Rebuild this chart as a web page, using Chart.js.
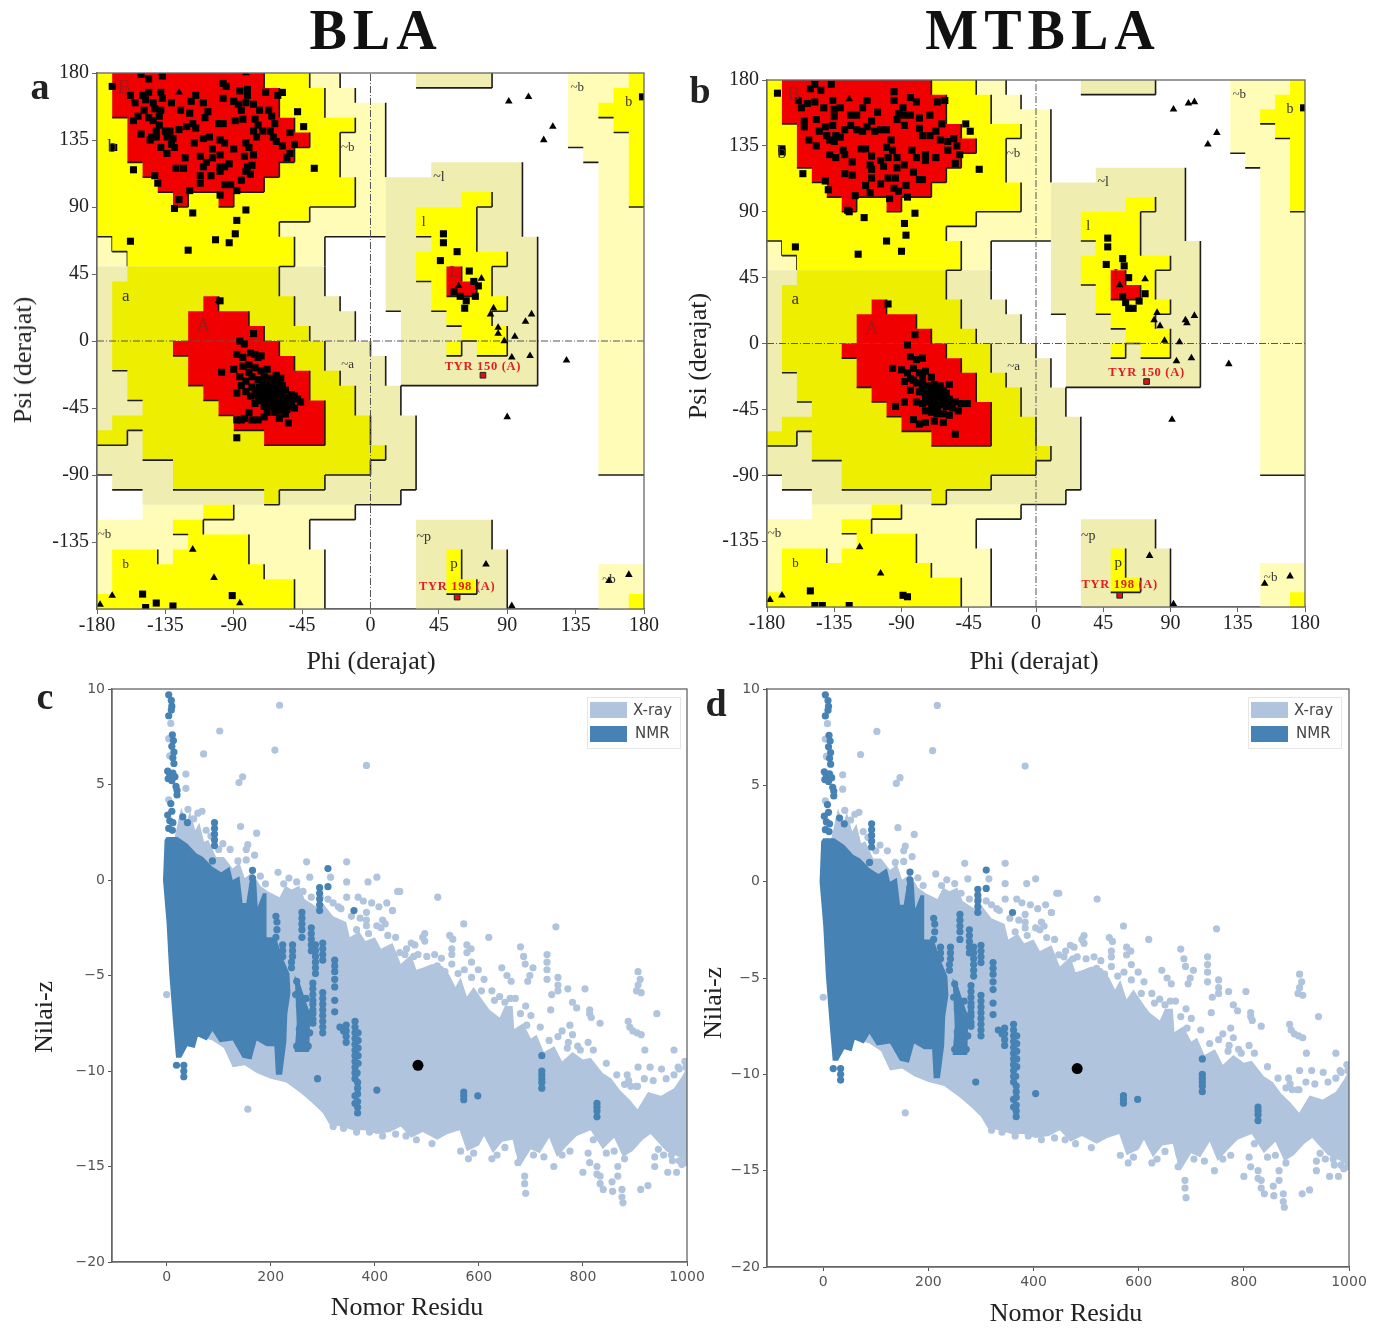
<!DOCTYPE html>
<html lang="en">
<head>
  <meta charset="UTF-8">
  <title>BLA / MTBLA</title>
  <script src="https://cdn.jsdelivr.net/npm/chart.js"></script>
  <style>
    html, body { margin: 0; background: #fff; }
    #page { position: relative; width: 1384px; height: 1329px; overflow: hidden; }
    canvas { position: absolute; filter: blur(0.5px); }
    .txt { position: absolute; transform: translate(-50%, -50%); white-space: nowrap; font-family: "Liberation Serif", serif; color: #222; }
    .head { font-size: 56px; font-weight: bold; letter-spacing: 6px; color: #111; }
    .tag { font-size: 38px; font-weight: bold; color: #222; }
    .axis { font-size: 26px; }
    .legend { position: absolute; width: 92px; height: 50px; border: 1px solid #e6e6e6; background: #fff; font: 15px "DejaVu Sans", sans-serif; color: #444; filter: blur(0.4px); }
    .legend i { position: absolute; left: 2px; width: 37px; height: 16px; }
    .legend span { position: absolute; left: 45px; }
  </style>
</head>
<body>
<div id="page">
  <canvas id="chartA"></canvas>
  <canvas id="chartB"></canvas>
  <canvas id="chartC"></canvas>
  <canvas id="chartD"></canvas>
</div>

<script>
// ---- Ramachandran regions, clockwise outlines in 10 degree steps (shared by a and b)
const coreBeta = [[-170,180],[-70,180],[-70,170],[-60,170],[-60,150],[-50,150],[-50,140],[-40,140],[-40,130],[-50,130],[-50,120],[-60,120],[-60,110],[-70,110],[-70,100],[-90,100],[-90,90],[-100,90],[-100,100],[-120,100],[-120,90],[-130,90],[-130,100],[-140,100],[-140,110],[-150,110],[-150,120],[-160,120],[-160,150],[-170,150]];
const coreAlpha = [[-110,30],[-100,30],[-100,20],[-80,20],[-80,10],[-70,10],[-70,0],[-60,0],[-60,-10],[-50,-10],[-50,-20],[-40,-20],[-40,-40],[-30,-40],[-30,-70],[-70,-70],[-70,-60],[-90,-60],[-90,-50],[-100,-50],[-100,-40],[-110,-40],[-110,-30],[-120,-30],[-120,-10],[-130,-10],[-130,0],[-120,0],[-120,20],[-110,20]];
const coreLeft = [[50,50],[60,50],[60,40],[70,40],[70,30],[50,30]];

const allowedBeta = [[-180,180],[-40,180],[-40,170],[-30,170],[-30,150],[-10,150],[-10,140],[-20,140],[-20,110],[-10,110],[-10,90],[-40,90],[-40,80],[-60,80],[-60,70],[-50,70],[-50,50],[-60,50],[-160,50],[-160,60],[-170,60],[-170,70],[-180,70]];
const allowedAlpha = [[-160,50],[-60,50],[-60,30],[-50,30],[-50,10],[-40,10],[-40,0],[-30,0],[-30,-20],[-20,-20],[-20,-30],[-10,-30],[-10,-50],[0,-50],[0,-70],[10,-70],[10,-80],[0,-80],[0,-90],[-30,-90],[-30,-100],[-60,-100],[-60,-110],[-70,-110],[-70,-100],[-130,-100],[-130,-80],[-150,-80],[-150,-60],[-160,-60],[-160,-70],[-180,-70],[-180,-60],[-170,-60],[-170,-50],[-150,-50],[-150,-40],[-160,-40],[-160,-20],[-170,-20],[-170,40],[-160,40]];
const allowedLowBeta = [[-110,-110],[-90,-110],[-90,-120],[-110,-120],[-110,-130],[-80,-130],[-80,-150],[-70,-150],[-70,-160],[-50,-160],[-50,-180],[-180,-180],[-180,-170],[-170,-170],[-170,-140],[-140,-140],[-140,-150],[-130,-150],[-130,-140],[-120,-140],[-120,-130],[-130,-130],[-130,-120],[-110,-120]];
const allowedL = [[60,100],[80,100],[80,90],[70,90],[70,60],[90,60],[90,50],[80,50],[80,30],[90,30],[90,20],[80,20],[80,10],[90,10],[90,-10],[70,-10],[70,0],[60,0],[60,-10],[50,-10],[50,0],[60,0],[60,10],[50,10],[50,20],[40,20],[40,40],[30,40],[30,60],[40,60],[40,70],[30,70],[30,90],[60,90]];
const allowedP = [[50,-140],[60,-140],[60,-160],[70,-160],[70,-170],[50,-170]];
const allowedRight = [[170,180],[180,180],[180,90],[170,90],[170,140],[160,140],[160,150],[150,150],[150,160],[160,160],[160,170],[170,170]];
const allowedCorner = [[170,-170],[180,-170],[180,-180],[170,-180]];

const paleTop = [[-40,180],[-20,180],[-20,170],[-10,170],[-10,160],[10,160],[10,110],[10,70],[-30,70],[-30,50],[-60,50],[-60,80],[-40,80]];
const paleStrip = [[-180,70],[-170,70],[-170,60],[-160,60],[-160,50],[-180,50]];
const paleLow = [[-150,-110],[-10,-110],[-10,-120],[-40,-120],[-40,-140],[-30,-140],[-30,-180],[-180,-180],[-180,-120],[-150,-120]];
const paleRight = [[130,180],[180,180],[180,-90],[150,-90],[150,120],[140,120],[140,130],[130,130]];
const paleCorner = [[150,-150],[180,-150],[180,-180],[150,-180]];

const tintMain = [[-180,50],[-30,50],[-30,30],[-20,30],[-20,20],[-10,20],[-10,0],[0,0],[0,-10],[10,-10],[10,-30],[20,-30],[20,-50],[30,-50],[30,-100],[20,-100],[20,-110],[-10,-110],[-150,-110],[-150,-100],[-170,-100],[-170,-90],[-180,-90]];
const tintL = [[40,120],[100,120],[100,70],[110,70],[110,-30],[20,-30],[20,20],[10,20],[10,110],[40,110]];
const tintTop = [[30,180],[80,180],[80,170],[30,170]];
const tintP = [[30,-120],[80,-120],[80,-140],[90,-140],[90,-180],[30,-180]];

// edges between these corners carry no black line in the reference
const quietEdges = [[-60,50,-160,50],[-30,50,-60,50],[-160,50,-180,50],[-10,-110,-150,-110],[10,110,10,70]];

const phiTicks = [-180,-135,-90,-45,0,45,90,135,180];
const psiTicks = [-135,-90,-45,0,45,90,135,180];

const regionNames = [
  ['B',-162,170,'#a01818',19],['b',-170,130,'#333',19],['A',-110,10,'#a01818',19],['a',-161,30,'#333',17],
  ['~b',-15,130,'#333',13],['~a',-15,-16,'#333',13],['~b',-175,-130,'#333',13],['b',-161,-150,'#333',13],
  ['~l',45,110,'#333',14],['l',35,80,'#333',14],['L',55,46,'#a01818',16],['~b',136,170,'#333',13],
  ['b',170,160,'#333',14],['~p',35,-132,'#333',14],['p',55,-150,'#333',15],['~b',157,-160,'#333',13]
];

// ---- panel a residues [phi, psi]
const squaresA = [[-151,179],[-146,176],[-137,178],[-158,165],[-150,165],[-146,167],[-155,160],[-148,162],[-138,167],[-137,163],[-131,160],[-143,160],[-149,155],[-142,156],[-138,155],[-139,151],[-153,151],[-156,148],[-146,150],[-143,148],[-139,145],[-141,141],[-151,139],[-145,135],[-141,137],[-135,141],[-132,141],[-130,136],[-138,130],[-134,126],[-129,130],[-122,123],[-128,116],[-123,116],[-142,111],[-140,106],[-119,101],[-126,95],[-125,155],[-118,161],[-115,165],[-119,153],[-117,146],[-121,144],[-115,143],[-110,160],[-107,154],[-109,150],[-116,133],[-110,136],[-106,137],[-100,146],[-97,146],[-99,135],[-96,133],[-104,129],[-112,124],[-108,120],[-104,123],[-99,125],[-110,117],[-99,117],[-96,117],[-93,119],[-99,114],[-112,111],[-112,106],[-105,111],[-96,105],[-92,105],[-88,101],[-99,98],[-97,173],[-95,171],[-97,163],[-86,168],[-81,169],[-81,165],[-90,161],[-87,159],[-82,160],[-85,155],[-77,159],[-73,155],[-67,155],[-69,167],[-61,165],[-58,167],[-89,148],[-84,149],[-76,149],[-74,145],[-77,141],[-75,137],[-71,141],[-65,151],[-63,146],[-66,141],[-64,137],[-62,134],[-58,131],[-53,140],[-50,132],[-53,126],[-55,123],[-82,133],[-80,130],[-77,125],[-83,124],[-90,129],[-81,117],[-78,118],[-82,114],[-85,108],[-79,112],[-126,142],[-134,137],[-131,132],[-144,137],
  [-170,171],[-169,130],[-156,115],[-37,116],[-44,144],[-48,154],[-129,89],[-117,86],[-82,88],[-88,81],[-89,72],[-93,66],[-102,68],[-120,61],[-158,67],[-99,27],
  [-83,-2],[-86,0],[-77,5],[-98,-21],[-88,-9],[-84,-11],[-79,-8],[-76,-9],[-74,-11],[-72,-10],[-90,-19],[-84,-17],[-80,-16],[-76,-18],[-72,-20],[-68,-19],[-86,-24],[-82,-27],[-78,-24],[-74,-26],[-70,-24],[-66,-25],[-62,-23],[-85,-30],[-82,-34],[-78,-31],[-73,-31],[-69,-29],[-65,-30],[-61,-28],[-58,-30],[-88,-35],[-76,-36],[-72,-35],[-68,-34],[-64,-35],[-60,-34],[-56,-33],[-52,-36],[-76,-42],[-72,-40],[-68,-39],[-64,-40],[-60,-39],[-56,-39],[-52,-41],[-48,-39],[-46,-41],[-70,-44],[-66,-44],[-62,-44],[-58,-44],[-54,-44],[-50,-45],[-68,-48],[-63,-48],[-59,-47],[-56,-49],[-80,-48],[-83,-52],[-88,-53],[-85,-53],[-78,-53],[-74,-53],[-70,-51],[-60,-52],[-54,-55],[-88,-65],
  [-70,-33],[-66,-37],[-62,-32],[-58,-36],[-54,-38],[-50,-37],[-63,-37],[-70,-38],[-74,-38],[-60,-42],[-56,-42],[-65,-42],[-70,-41],[-75,-33],[-79,-37],[-67,-31],[-63,-26],[-59,-25],[-71,-27],[-80,-21],[-55,-46],
  [48,72],[48,66],[57,60],[46,54],[65,47],[68,40],[71,37],[55,33],[59,30],[69,30],[63,27],[62,22],[179,164],
  [-150,-170],[-148,-179],[-141,-176],[-130,-178],[-91,-171]
];
const trianglesA = [[91,161],[104,164],[120,144],[114,135],[73,42],[58,37],[81,22],[79,18],[84,9],[84,5],[88,0],[95,3],[102,13],[106,18],[93,-11],[105,-10],[129,-13],[90,-51],[76,-150],[93,-178],[157,-161],[170,-157],[-82,180],[-58,166],[-126,167],[-100,27],[-117,-140],[-103,-159],[-170,-171],[-178,-177],[-86,-176]];
const flaggedA = [[74,-23],[57,-172]];
const flaggedNamesA = [['TYR 150 (A)',74,-17],['TYR 198 (A)',57,-165]];

// ---- panel b residues
const squaresB = [[-173,171],[-170,133],[-170,131],[-156,116],[-148,177],[-151,174],[-144,173],[-137,177],[-159,166],[-148,165],[-153,164],[-157,161],[-142,161],[-136,166],[-135,160],[-131,161],[-124,156],[-120,156],[-116,161],[-113,166],[-106,158],[-95,172],[-95,166],[-92,157],[-89,161],[-84,168],[-80,165],[-88,156],[-84,156],[-78,154],[-71,156],[-66,165],[-61,166],[-155,152],[-155,148],[-147,153],[-141,148],[-135,155],[-136,149],[-145,145],[-140,142],[-134,142],[-131,141],[-152,139],[-147,135],[-138,139],[-135,138],[-128,146],[-124,149],[-120,146],[-116,145],[-113,148],[-110,152],[-108,145],[-104,146],[-100,146],[-93,153],[-88,149],[-78,147],[-76,142],[-71,142],[-67,145],[-63,150],[-64,139],[-59,138],[-55,140],[-53,135],[-51,129],[-54,123],[-47,150],[-44,145],[-38,119],[-83,132],[-80,127],[-74,129],[-74,125],[-67,127],[-59,132],[-129,132],[-128,129],[-117,133],[-114,133],[-138,129],[-134,127],[-123,124],[-110,128],[-111,122],[-110,119],[-104,125],[-102,121],[-99,127],[-96,132],[-97,139],[-100,134],[-93,120],[-88,122],[-93,127],[-128,116],[-123,115],[-141,111],[-139,105],[-110,113],[-114,108],[-104,109],[-99,113],[-94,113],[-95,106],[-92,104],[-87,108],[-82,117],[-78,112],[-76,112],[-111,103],[-121,101],[-98,99],[-86,100],[-126,91],[-125,90],
  [-115,86],[-81,89],[-88,82],[-87,74],[-100,70],[-90,63],[-119,61],[-161,66],[-99,27],
  [-81,6],[-86,-1],[-84,-9],[-80,-11],[-76,-10],[-96,-17],[-90,-18],[-86,-20],[-82,-17],[-78,-20],[-74,-19],[-70,-23],[-88,-26],[-84,-24],[-80,-27],[-76,-27],[-72,-29],[-68,-28],[-64,-29],[-60,-34],[-84,-32],[-78,-33],[-74,-34],[-70,-35],[-66,-34],[-62,-36],[-58,-38],[-54,-40],[-50,-41],[-46,-41],[-80,-40],[-76,-41],[-72,-40],[-68,-41],[-64,-42],[-60,-43],[-56,-44],[-52,-46],[-74,-46],[-70,-47],[-66,-48],[-62,-48],[-58,-49],[-88,-40],[-94,-43],[-82,-52],[-78,-55],[-74,-54],[-68,-53],[-62,-54],[-54,-62],[-58,-28],
  [-72,-37],[-68,-37],[-64,-37],[-60,-38],[-66,-32],[-62,-32],[-70,-31],[-74,-37],[-66,-44],[-62,-41],[-58,-42],[-70,-44],[-76,-31],[-82,-25],[-76,-23],
  [48,72],[48,66],[58,58],[47,54],[59,53],[62,45],[73,34],[58,32],[60,28],[69,29],[65,24],[62,24],[179,161],
  [-151,-169],[-148,-179],[-143,-179],[-125,-179],[-89,-172],[-86,-173]
];
const trianglesB = [[92,160],[102,164],[106,165],[121,144],[115,136],[73,44],[56,40],[81,21],[79,16],[83,12],[100,16],[106,19],[101,14],[86,2],[96,1],[94,-12],[104,-10],[129,-14],[91,-52],[76,-145],[92,-178],[153,-164],[170,-159],[-125,167],[-178,-175],[-170,-172],[-118,-139],[-104,-157]];
const flaggedB = [[74,-26],[56,-172]];
const flaggedNamesB = [['TYR 150 (A)',74,-20],['TYR 198 (A)',56,-165]];

// ---- z-score panels c and d [residues, z]
const residueTicks = [0,200,400,600,800,1000];
const zTicks = [-20,-15,-10,-5,0,5,10];
const xrayCloud = [[15,2.2],[28,3.8],[38,3],[45,3.6],[55,2.6],[63,3],[72,2],[80,2.1],[95,1.2],[110,1.2],[127,.6],[140,.9],[150,.1],[165,.4],[180,-.3],[195,-.6],[217,-.9],[228,-.3],[240,-.5],[255,-.3],[265,-1],[288,-1.4],[300,-1.2],[320,-1.9],[345,-2.2],[352,-3],[370,-2.7],[382,-3.2],[400,-3],[412,-3.6],[434,-3.3],[450,-4.4],[470,-3.9],[480,-4.7],[492,-4.6],[510,-4.4],[530,-4.5],[544,-5],[555,-5.6],[565,-5.1],[577,-6.1],[590,-5.6],[610,-6.4],[621,-6.8],[640,-7.2],[650,-6.6],[665,-6.6],[668,-7.8],[685,-7.5],[700,-8.3],[711,-8.1],[725,-9],[745,-8.7],[760,-9.5],[780,-9],[800,-9.4],[815,-9.3],[838,-10.1],[855,-10.4],[871,-11],[890,-11.5],[905,-12],[925,-11.1],[950,-11.3],[975,-10.9],[990,-10.3],[1000,-9.8],[1000,-14.8],[985,-14.5],[960,-14.2],[930,-13.3],[915,-13.6],[895,-14.2],[877,-14.5],[860,-13.5],[838,-14.1],[815,-13.1],[788,-13.4],[770,-13.9],[750,-14.5],[735,-13.5],[717,-14.3],[700,-14.1],[679,-15],[670,-14.2],[665,-13.6],[645,-13.7],[627,-14.3],[610,-13.4],[600,-13.9],[577,-14.2],[563,-13.1],[540,-13.3],[520,-13.6],[492,-13.2],[470,-13.5],[450,-12.9],[429,-13.2],[404,-13.3],[380,-13.1],[358,-13.1],[335,-12.9],[313,-12.8],[300,-12.2],[281,-11.7],[260,-11.2],[230,-10.6],[200,-10.4],[173,-10.1],[150,-9.7],[127,-9.8],[110,-8.8],[88,-8.4],[40,-8],[10,-2]];
const nmrCloud = [[0,2.25],[21,2.25],[40,1.9],[57,1.4],[70,1.2],[88,.7],[105,.4],[121,.7],[127,0],[140,.2],[146,-1.2],[153,-1.2],[160,0],[172,0],[175,-1.4],[185,-.7],[192,-.7],[192,-3],[210,-3],[222,-4],[236,-4.9],[238,-5.9],[232,-7],[230,-8.5],[222,-10.2],[210,-10.2],[207,-8.7],[192,-8.7],[173,-8.4],[163,-9.4],[146,-9.3],[127,-8.4],[102,-8.5],[88,-7.9],[77,-8.4],[60,-8.2],[54,-8.8],[40,-8.7],[28,-9.3],[18,-9.3],[13,-7.7],[5,-4.9],[0,-2.3],[-7,0],[-4,2.1]];
const nmrBlock = [[246,-5],[256,-5.4],[268,-6.4],[276,-7],[274,-9],[246,-9],[250,-7.5]];
const xrayPoints = [[217,9.15],[102,7.8],[71,6.6],[208,6.8],[384,6],[37,5.55],[146,5.4],[139,5.1],[37,4.8],[41,3.7],[68,3.6],[142,2.8],[173,2.45],[108,1.9],[122,1.6],[156,1.85],[153,1.6],[169,1.3],[137,1],[153,1.05],[214,.4],[269,.95],[346,.95],[275,.15],[315,.15],[346,-.1],[387,-.1],[404,.15],[320,-1.2],[330,-1.4],[346,-.9],[368,-.9],[378,-1.1],[394,-1.2],[408,-1.4],[423,-1.2],[434,-1.6],[444,-.6],[384,-1.7],[384,-2.1],[384,-2.4],[415,-2.1],[420,-2.3],[412,-2.5],[365,-2.6],[365,-3.1],[448,-.6],[521,-.9],[434,-1.6],[571,-2.3],[748,-2.45],[496,-2.8],[496,-3.2],[492,-3],[544,-2.9],[550,-3.1],[619,-3],[680,-3.5],[477,-3.4],[461,-3.6],[448,-3.8],[475,-4],[548,-3.6],[548,-3.9],[577,-3.4],[577,-3.8],[585,-3.6],[586,-4.3],[599,-4.7],[686,-4],[689,-4.4],[731,-3.9],[731,-4.3],[731,-4.7],[731,-5.2],[704,-4.6],[698,-5],[694,-5.3],[644,-4.6],[654,-5],[662,-5.3],[520,-4.5],[535,-4.8],[560,-4.9],[610,-5.2],[625,-5.8],[640,-6.1],[752,-5.1],[752,-5.5],[752,-5.8],[771,-5.7],[740,-6],[804,-5.7],[906,-4.8],[910,-5.2],[906,-5.5],[903,-5.8],[912,-5.9],[942,-7],[887,-7.4],[890,-7.7],[896,-7.9],[904,-8],[912,-8.1],[813,-6.8],[813,-7],[816,-7.2],[833,-7.5],[780,-6.4],[788,-6.7],[738,-6.8],[775,-7.6],[810,-8.5],[919,-8.9],[975,-8.9],[929,-9.8],[951,-9.9],[906,-9.8],[983,-9.8],[996,-9.5],[885,-10.2],[888,-10.5],[892,-10.8],[902,-10.8],[780,-8.1],[770,-8.8],[790,-8.7],[760,-7.9],[690,-6.6],[700,-7.1],[670,-6.2],[650,-6.4],[688,-15.5],[688,-15.9],[690,-16.4],[675,-14.8],[680,-14.6],[744,-15],[810,-14.3],[813,-14.8],[800,-15.3],[827,-15],[827,-15.4],[833,-15.5],[833,-15.9],[856,-15.8],[839,-16.2],[857,-16.3],[875,-16.2],[875,-16.6],[877,-16.9],[867,-15],[867,-15.5],[911,-16.2],[925,-16],[963,-15.3],[980,-15.3],[938,-14.5],[938,-15],[970,-14.4],[972,-14.7],[990,-14.9],[156,-12],[0,-6],[8,8.2],[4,7.4],[6,6.5],[4,4.2],
  [30,3.2],[52,3.2],[60,3.5],[76,2.6],[85,2.3],[100,1.6],[180,.2],[190,-.2],[225,-.2],[235,.1],[250,-.1],[262,-.6],[278,-.9],[295,-.9],[310,-1],[335,-1.5],[355,-1.9],[372,-2],[388,-2.8],[404,-2.4],[425,-2.9],[440,-3],[458,-3.9],[470,-3.3],[483,-3.9],[500,-4],[515,-3.9],[528,-4.1],[548,-4.4],[572,-4.7],[586,-5.1],[605,-5.8],[630,-6.3],[660,-6.2],[680,-7],[692,-7.6],[718,-7.7],[735,-8.4],[752,-8.2],[772,-8.5],[795,-8.9],[820,-8.9],[845,-9.6],[865,-10.2],[880,-10.7],[905,-10.8],[918,-10.4],[935,-10.5],[960,-10.4],[975,-10.2],[985,-9.9],[998,-9.8],
  [1000,-10.4],[895,-12.6],[900,-13.2],[912,-12.6],[945,-14.1],[955,-14.4],[985,-14.7],[998,-14.8],[880,-14.6],[860,-14.2],[845,-14.3],[820,-13.6],[775,-14.2],[760,-14.4],[725,-14.5],[705,-14.4],[650,-14],[635,-14.4],[625,-14.6],[590,-14.3],[580,-14.6],[565,-14.2],[510,-13.8],[480,-13.6],[460,-13.4],[440,-13.3],[415,-13.4],[390,-13.2],[365,-13.2],[340,-13],[320,-12.9]];
const nmrPoints = [[4,9.7],[9,9.4],[10,9.1],[9,8.9],[4,8.6],[11,7.6],[13,7.3],[10,7],[14,6.7],[12,6.4],[14,6.1],[2,5.7],[6,5.5],[12,5.6],[16,5.4],[3,5.3],[10,5.2],[18,4.9],[20,4.7],[20,4.45],[8,4],[10,3.6],[2,3.4],[6,3.1],[12,3],[4,2.7],[11,2.6],[31,3.3],[40,3],
  [92,3],[92,2.7],[92,2.4],[92,2.1],[92,1.8],[88,1],[165,.5],[165,.1],[165,-.3],[294,-.4],[294,-.7],[294,-1],[294,-1.3],[294,-1.6],[310,.6],[310,-.35],[360,-1.6],
  [260,-1.7],[260,-2],[260,-2.3],[260,-2.6],[260,-3],[210,-1.9],[212,-2.2],[212,-2.6],[210,-3],[223,-3.4],[223,-3.7],[223,-4],[242,-3.4],[242,-3.7],[242,-4],[240,-4.3],[240,-4.6],
  [278,-2.5],[278,-2.8],[278,-3.1],[278,-3.4],[278,-3.7],[286,-3.4],[286,-3.7],[286,-4],[286,-4.3],[286,-4.6],[286,-4.9],[300,-3.3],[300,-3.6],[300,-3.9],[300,-4.2],[323,-4.2],[323,-4.5],[323,-4.8],[323,-5.2],[323,-5.6],[323,-6.3],
  [250,-5.3],[248,-6],[255,-6.6],[262,-7.2],[268,-6.2],[272,-7],[255,-7.8],[265,-8],[275,-8],[250,-8.7],[262,-8.8],[272,-8.7],
  [281,-5.4],[281,-5.7],[281,-6],[281,-6.3],[281,-6.5],[281,-6.8],[281,-7],[281,-7.3],[281,-7.5],[300,-5.9],[300,-6.2],[300,-6.5],[300,-6.8],[300,-7.1],[300,-7.4],[300,-7.7],[300,-8],[323,-6.9],[333,-7.7],[340,-7.9],[345,-7.6],[345,-7.9],[345,-8.2],[345,-8.5],
  [362,-7.4],[362,-7.7],[362,-8],[362,-8.3],[362,-8.6],[362,-8.9],[362,-9.2],[362,-9.5],[362,-9.8],[362,-10.1],[362,-10.4],[368,-8],[368,-8.4],[368,-8.8],[368,-9.2],[368,-9.6],[366,-10.1],[367,-10.6],[367,-10.9],[367,-11.2],[362,-11.3],[362,-11.7],[367,-11.6],[367,-11.9],[367,-12.2],
  [290,-10.4],[404,-11],[19,-9.7],[33,-9.7],[33,-10],[33,-10.3],[571,-11.1],[571,-11.3],[571,-11.5],[598,-11.3],[721,-9.2],[721,-10],[721,-10.2],[721,-10.4],[721,-10.6],[721,-10.9],[827,-11.7],[827,-11.9],[827,-12.1],[827,-12.4]];
const blackPoint = [[483,-9.7]];

const zLabel = v => v < 0 ? '\u2212' + (-v) : String(v);

function closedLoop(poly) {
  return poly.concat([poly[0]]).map(p => ({x: p[0], y: p[1]}));
}

// black lines sit on the lower and right side of each region
function edgeLoop(poly) {
  const loop = closedLoop(poly);
  const out = [];
  for (let i = 0; i < loop.length - 1; i++) {
    const a = loop[i], b = loop[i + 1];
    if (!(b.y < a.y || b.x < a.x)) continue;
    if ((a.y === -180 && b.y === -180) || (a.x === 180 && b.x === 180)) continue;
    if (quietEdges.some(q => q[0] === a.x && q[1] === a.y && q[2] === b.x && q[3] === b.y)) continue;
    out.push(a, b, {x: NaN, y: NaN});
  }
  return out;
}

function area(poly, color, outline) {
  const sets = [{
    data: closedLoop(poly), showLine: true, fill: 'shape', backgroundColor: color,
    borderWidth: 0, pointRadius: 0
  }];
  if (outline) {
    sets.push({data: edgeLoop(poly), showLine: true, borderColor: '#1c1c1c', borderWidth: 1.6, pointRadius: 0});
  }
  return sets;
}

function stacked(sets) {
  // Chart.js paints high order first, so the last entry ends on top
  sets.forEach((s, i) => { s.order = sets.length - i; });
  return sets;
}

const framePlugin = {
  id: 'frame',
  afterDatasetsDraw(chart, args, opts) {
    const a = chart.chartArea, ctx = chart.ctx;
    ctx.save();
    ctx.strokeStyle = opts.color;
    ctx.lineWidth = 1.3;
    ctx.strokeRect(a.left, a.top, a.right - a.left, a.bottom - a.top);
    ctx.restore();
  }
};

const namesPlugin = {
  id: 'names',
  afterDatasetsDraw(chart, args, opts) {
    const ctx = chart.ctx, x = chart.scales.x, y = chart.scales.y;
    ctx.save();
    ctx.textAlign = 'center';
    ctx.textBaseline = 'middle';
    regionNames.forEach(n => {
      ctx.font = n[4] + 'px "Liberation Serif", serif';
      ctx.fillStyle = n[3];
      ctx.fillText(n[0], x.getPixelForValue(n[1]), y.getPixelForValue(n[2]));
    });
    ctx.font = 'bold 12.5px "Liberation Serif", serif';
    ctx.letterSpacing = '0.7px';
    ctx.fillStyle = '#e02020';
    opts.flagged.forEach(n => {
      ctx.fillText(n[0], x.getPixelForValue(n[1]), y.getPixelForValue(n[2]));
    });
    ctx.restore();
  }
};

function place(id, left, top, w, h) {
  const c = document.getElementById(id);
  c.width = w; c.height = h;
  c.style.left = left + 'px'; c.style.top = top + 'px';
  return c;
}

function ramaChart(id, box, pad, squares, triangles, flagged, flaggedNames) {
  const canvas = place(id, box[0], box[1], box[2], box[3]);
  const red = '#f00000', yellow = '#ffff00', yellow2 = '#eeee00', pale = '#fffcb8', tint = '#efedb0';
  const sets = stacked([
    ...area(paleTop, pale, true), ...area(paleStrip, pale, true), ...area(paleLow, pale, true),
    ...area(paleRight, pale, true), ...area(paleCorner, pale, true),
    ...area(tintMain, tint, true), ...area(tintL, tint, true), ...area(tintTop, tint, true), ...area(tintP, tint, true),
    ...area(allowedBeta, yellow, true), ...area(allowedAlpha, yellow2, true), ...area(allowedLowBeta, yellow, true),
    ...area(allowedL, yellow, true), ...area(allowedP, yellow, true), ...area(allowedRight, yellow, true), ...area(allowedCorner, yellow, false),
    ...area(coreBeta, red, true), ...area(coreAlpha, red, true), ...area(coreLeft, red, true),
    {data: [{x: -180, y: 0}, {x: 180, y: 0}], showLine: true, borderColor: '#555', borderWidth: 1, borderDash: [7, 2, 1, 2], pointRadius: 0},
    {data: [{x: 0, y: -180}, {x: 0, y: 180}], showLine: true, borderColor: '#555', borderWidth: 1, borderDash: [7, 2, 1, 2], pointRadius: 0},
    {data: squares.map(p => ({x: p[0], y: p[1]})), pointStyle: 'rect', pointRadius: 5, pointBackgroundColor: '#000', pointBorderWidth: 0},
    {data: triangles.map(p => ({x: p[0], y: p[1]})), pointStyle: 'triangle', pointRadius: 4.4, pointBackgroundColor: '#000', pointBorderWidth: 0},
    {data: flagged.map(p => ({x: p[0], y: p[1]})), pointStyle: 'rect', pointRadius: 4, pointBackgroundColor: '#e01010', pointBorderColor: '#222', pointBorderWidth: 1}
  ]);
  new Chart(canvas, {
    type: 'scatter',
    data: {datasets: sets},
    plugins: [framePlugin, namesPlugin],
    options: {
      responsive: false, animation: false, events: [],
      layout: {padding: {top: pad.top, right: pad.right}},
      plugins: {legend: {display: false}, tooltip: {enabled: false}, frame: {color: '#666'}, names: {flagged: flaggedNames}},
      scales: {
        x: {
          type: 'linear', min: -180, max: 180,
          afterBuildTicks: s => { s.ticks = phiTicks.map(v => ({value: v})); },
          afterFit: s => { s.height = pad.bottom; },
          grid: {drawOnChartArea: false, tickLength: 5, color: '#666'},
          border: {color: '#666', width: 1.3},
          ticks: {maxRotation: 0, autoSkip: false, padding: 0, color: '#222', font: {family: '"Liberation Serif", serif', size: 20}}
        },
        y: {
          type: 'linear', min: -180, max: 180,
          afterBuildTicks: s => { s.ticks = psiTicks.map(v => ({value: v})); },
          afterFit: s => { s.width = pad.left; },
          grid: {drawOnChartArea: false, tickLength: 5, color: '#666'},
          border: {color: '#666', width: 1.3},
          ticks: {autoSkip: false, padding: 3, color: '#222', font: {family: '"Liberation Serif", serif', size: 20}}
        }
      }
    }
  });
}

function zChart(id, box, pad, xMin) {
  const canvas = place(id, box[0], box[1], box[2], box[3]);
  const light = '#b0c4de', dark = '#4682b4';
  const sets = stacked([
    ...area(xrayCloud, light, false),
    {data: xrayPoints.map(p => ({x: p[0], y: p[1]})), pointRadius: 3.6, pointBackgroundColor: light, pointBorderWidth: 0},
    ...area(nmrBlock, dark, false),
    ...area(nmrCloud, dark, false),
    {data: nmrPoints.map(p => ({x: p[0], y: p[1]})), pointRadius: 3.6, pointBackgroundColor: dark, pointBorderWidth: 0},
    {data: blackPoint.map(p => ({x: p[0], y: p[1]})), pointRadius: 5.5, pointBackgroundColor: '#000', pointBorderWidth: 0}
  ]);
  new Chart(canvas, {
    type: 'scatter',
    data: {datasets: sets},
    plugins: [framePlugin],
    options: {
      responsive: false, animation: false, events: [],
      layout: {padding: {top: pad.top, right: pad.right}},
      plugins: {legend: {display: false}, tooltip: {enabled: false}, frame: {color: '#666'}},
      scales: {
        x: {
          type: 'linear', min: xMin, max: 1000,
          afterBuildTicks: s => { s.ticks = residueTicks.map(v => ({value: v})); },
          afterFit: s => { s.height = pad.bottom; },
          grid: {drawOnChartArea: false, tickLength: 4, color: '#555'},
          border: {color: '#666', width: 1.3},
          ticks: {maxRotation: 0, autoSkip: false, padding: 3, color: '#555', callback: zLabel, font: {family: '"DejaVu Sans", sans-serif', size: 14}}
        },
        y: {
          type: 'linear', min: -20, max: 10,
          afterBuildTicks: s => { s.ticks = zTicks.map(v => ({value: v})); },
          afterFit: s => { s.width = pad.left; },
          grid: {drawOnChartArea: false, tickLength: 4, color: '#555'},
          border: {color: '#666', width: 1.3},
          ticks: {autoSkip: false, padding: 3, color: '#555', callback: zLabel, font: {family: '"DejaVu Sans", sans-serif', size: 14}}
        }
      }
    }
  });
}

ramaChart('chartA', [0, 50, 680, 630], {left: 97, right: 36, top: 23, bottom: 71}, squaresA, trianglesA, flaggedA, flaggedNamesA);
ramaChart('chartB', [680, 60, 690, 620], {left: 87, right: 65, top: 20, bottom: 73}, squaresB, trianglesB, flaggedB, flaggedNamesB);
zChart('chartC', [0, 670, 720, 659], {left: 112, right: 33, top: 19, bottom: 67}, -105);
zChart('chartD', [700, 670, 684, 659], {left: 67, right: 35, top: 19, bottom: 62}, -107);

// ---- page text
const page = document.getElementById('page');
function addText(cls, text, x, y, rotate) {
  const d = document.createElement('div');
  d.className = 'txt ' + cls;
  d.textContent = text;
  d.style.left = x + 'px';
  d.style.top = y + 'px';
  if (rotate) d.style.transform = 'translate(-50%, -50%) rotate(-90deg)';
  page.appendChild(d);
}
addText('head', 'BLA', 376, 30);
addText('head', 'MTBLA', 1043, 30);
addText('tag', 'a', 40, 86);
addText('tag', 'b', 700, 90);
addText('tag', 'c', 45, 696);
addText('tag', 'd', 716, 703);
addText('axis', 'Phi (derajat)', 371, 661);
addText('axis', 'Phi (derajat)', 1034, 661);
addText('axis', 'Psi (derajat)', 23, 360, true);
addText('axis', 'Psi (derajat)', 698, 356, true);
addText('axis', 'Nomor Residu', 407, 1307);
addText('axis', 'Nomor Residu', 1066, 1313);
addText('axis', 'Nilai-z', 44, 1017, true);
addText('axis', 'Nilai-z', 713, 1003, true);

function addLegend(left) {
  const box = document.createElement('div');
  box.className = 'legend';
  box.style.left = left + 'px';
  box.style.top = '697px';
  box.innerHTML = '<i style="top:4px;background:#b0c4de"></i><span style="top:3px">X-ray</span>' +
    '<i style="top:28px;background:#4682b4"></i><span style="top:26px;left:47px">NMR</span>';
  page.appendChild(box);
}
addLegend(587);
addLegend(1248);
</script>
</body>
</html>
